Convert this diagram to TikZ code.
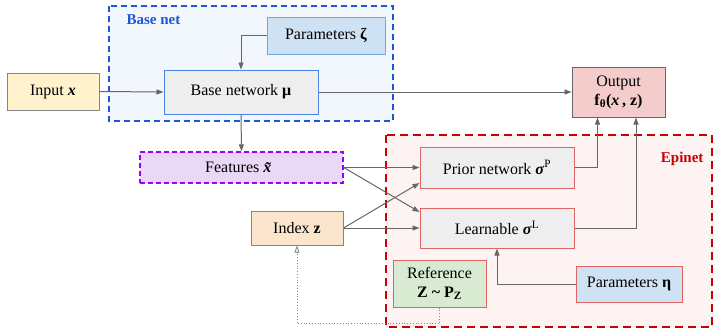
\documentclass[tikz,border=0pt]{standalone}
\usepackage{fontspec}
\setmainfont{Liberation Serif}
\usepackage{xcolor}
\usetikzlibrary{arrows.meta,calc}

\definecolor{lineGray}{HTML}{666666}
\definecolor{baseBlue}{HTML}{1E56D6}
\definecolor{baseFill}{HTML}{F2F6FD}
\definecolor{paramFill}{HTML}{CFE2F3}
\definecolor{paramEdge}{HTML}{6FA8DC}
\definecolor{netFill}{HTML}{EEEEEE}
\definecolor{netBlue}{HTML}{4A86E8}
\definecolor{epiRed}{HTML}{CC0000}
\definecolor{epiFill}{HTML}{FDF3F3}
\definecolor{boxRed}{HTML}{E06666}
\definecolor{inputFill}{HTML}{FFF2CC}
\definecolor{outFill}{HTML}{F4CCCC}
\definecolor{featFill}{HTML}{EAD9F6}
\definecolor{featEdge}{HTML}{9900FF}
\definecolor{indexFill}{HTML}{FCE5CD}
\definecolor{refFill}{HTML}{D9EAD3}

\begin{document}
\begin{tikzpicture}[x=1pt, y=-1pt,
        font=\fontsize{16}{17}\selectfont,
        box/.style={draw, rectangle, line width=1pt, align=center, inner sep=0pt},
        conn/.style={draw=lineGray, line width=1pt, -{Triangle[length=7pt, width=5pt]}}]
        \useasboundingbox (0,0) rectangle (714,330);

        % group areas
        \draw[baseBlue, fill=baseFill, dashed, line width=1.6pt, dash pattern=on 6pt off 4pt] (109,6) rectangle (393,121);
        \node[font=\fontsize{15}{16}\selectfont\bfseries, text=baseBlue, anchor=west] (basenetlabel) at (123,20) {Base net};

        \draw[epiRed, fill=epiFill, dashed, line width=1.6pt, dash pattern=on 8pt off 5pt] (386,135) rectangle (712,327);
        \node[font=\fontsize{15}{16}\selectfont\bfseries, text=epiRed, anchor=east] (epinetlabel) at (707,159) {Epinet};

        % Base net boxes
        \node[box, draw=paramEdge, fill=paramFill, minimum width=118, minimum height=37] (paramZeta) at (326,35.5) {Parameters \textbf{ζ}};
        \node[box, draw=netBlue, fill=netFill, minimum width=154, minimum height=44] (baseNet) at (241,92) {Base network \textbf{μ}};

        % Input and output
        \node[box, draw=lineGray!80, fill=inputFill, minimum width=92, minimum height=37] (input) at (53,91.5) {Input \textbf{\textit{x}}};
        \node[box, draw=lineGray, fill=outFill, minimum width=93, minimum height=50, font=\fontsize{16}{19}\selectfont] (output) at (618.5,92)
        {Output\\ \textbf{f\textsubscript{θ}(\textit{x}\,, z)}};

        % Features and index
        \node[box, draw=featEdge, fill=featFill, dashed, line width=1.4pt, dash pattern=on 5pt off 3pt, minimum width=203, minimum height=31] (features) at (241.5,167.5) {Features \textbf{\textit{x̃}}};
        \node[box, draw=lineGray!80, fill=indexFill, minimum width=92, minimum height=34] (index) at (297,228) {Index \textbf{z}};

        % Epinet boxes
        \node[box, draw=boxRed, fill=netFill, minimum width=154, minimum height=41] (prior) at (497,167.5) {Prior network \textbf{\textit{σ}}\textsuperscript{P}};
        \node[box, draw=boxRed, fill=netFill, minimum width=154, minimum height=40] (learnable) at (497,228) {Learnable \textbf{\textit{σ}}\textsuperscript{L}};
        \node[box, draw=boxRed, fill=refFill, minimum width=93, minimum height=47, font=\fontsize{16}{19}\selectfont] (reference) at (439.5,283.5)
        {Reference\\ \textbf{Z \textasciitilde{} P\textsubscript{Z}}};
        \node[box, draw=boxRed, fill=paramFill, minimum width=106, minimum height=36] (paramEta) at (629,284) {Parameters \textbf{η}};

        % connectors
        \draw[conn] (paramZeta.west) -| (baseNet.north);
        \draw[conn] (input.east) -- (baseNet.west);
        \draw[conn] (baseNet.east) -- (output.west);
        \draw[conn] (baseNet.south) -- (features.north);

        \draw[conn] (features.east) -- (prior.west);
        \draw[conn] (features.east) -- ([yshift=16pt]learnable.west);
        \draw[conn] (index.east) -- ([yshift=-15.5pt]prior.west);
        \draw[conn] (index.east) -- (learnable.west);

        \draw[conn] (prior.east) -| ([xshift=-21pt]output.south);
        \draw[conn] (learnable.east) -| ([xshift=17.5pt]output.south);
        \draw[conn] (paramEta.west) -| (learnable.south);

        % sampling the index
        \coordinate (sampleCorner) at ($(reference.south)+(0,16)$);
        \draw[lineGray!80, line width=0.8pt, dotted, -{Triangle[open, length=7pt, width=5pt]}]
            (reference.south) -- (sampleCorner) -| (index.south);
\end{tikzpicture}
\end{document}
